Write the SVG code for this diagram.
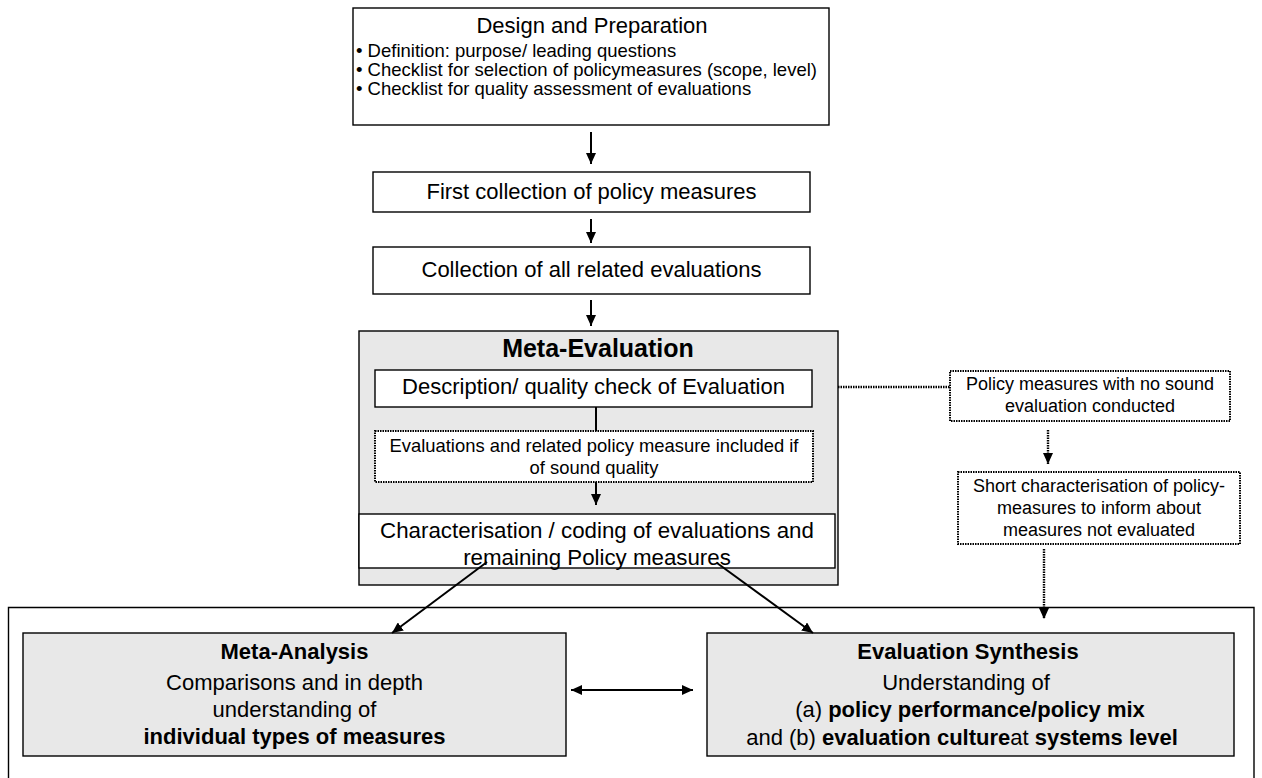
<svg xmlns="http://www.w3.org/2000/svg" width="1262" height="778" viewBox="0 0 1262 778">
  <defs>
    <marker id="head" markerUnits="userSpaceOnUse" markerWidth="12" markerHeight="10" refX="11" refY="5" orient="auto-start-reverse">
      <path d="M0,0 L11,5 L0,10 z" fill="#000"/>
    </marker>
    <style>
      text { font-family: "Liberation Sans", Arial, sans-serif; fill: #000; }
      .box { fill: #fff; stroke: #000; stroke-width: 1.4; }
      .grey { fill: #e8e8e8; stroke: #000; stroke-width: 1.4; }
      .dotbox { fill: #fff; stroke: #000; stroke-width: 2; stroke-dasharray: 1.5 1; }
      .flow { stroke: #000; stroke-width: 2; fill: none; }
      .dot { stroke: #000; stroke-width: 2.4; stroke-dasharray: 1.5 1; fill: none; }
      .c { text-anchor: middle; }
      .b { font-weight: bold; }
    </style>
  </defs>
  <rect width="1262" height="778" fill="#fff"/>

  <!-- outer frame of the result stage (open at the bottom) -->
  <path d="M8.5,790 V607.5 H1254 V790" fill="none" stroke="#000" stroke-width="1.4"/>

  <g id="design">
    <rect class="box" x="353" y="8" width="476" height="117"/>
    <text class="c" x="592" y="33" font-size="22">Design and Preparation</text>
    <text x="356" y="57" font-size="18.5">• Definition: purpose/ leading questions</text>
    <text x="356" y="76" font-size="18.5">• Checklist for selection of policymeasures (scope, level)</text>
    <text x="356" y="95" font-size="18.5">• Checklist for quality assessment of evaluations</text>
  </g>

  <g id="first-collection">
    <rect class="box" x="373" y="172" width="437" height="40"/>
    <text class="c" x="591.5" y="199" font-size="22">First collection of policy measures</text>
  </g>

  <g id="collection-evaluations">
    <rect class="box" x="373" y="247" width="437" height="47"/>
    <text class="c" x="591.5" y="277" font-size="22">Collection of all related evaluations</text>
  </g>

  <g id="meta-evaluation">
    <rect class="grey" x="359" y="331" width="479" height="254"/>
    <text class="c b" x="598" y="357" font-size="25">Meta-Evaluation</text>
    <g id="description">
      <rect class="box" x="375" y="370" width="437" height="37"/>
      <text class="c" x="593.5" y="394" font-size="22">Description/ quality check of Evaluation</text>
    </g>
    <g id="sound-quality">
      <rect class="dotbox" x="375" y="431" width="438" height="51"/>
      <text class="c" x="594" y="452" font-size="18.4">Evaluations and related policy measure included if</text>
      <text class="c" x="594" y="474" font-size="18.4">of sound quality</text>
    </g>
    <g id="characterisation">
      <rect class="box" x="359" y="514" width="476" height="54"/>
      <text class="c" x="597" y="538" font-size="22.3">Characterisation / coding of evaluations and</text>
      <text class="c" x="597" y="565" font-size="22.3">remaining Policy measures</text>
    </g>
  </g>

  <g id="no-sound-evaluation">
    <rect class="dotbox" x="950" y="371" width="280" height="50"/>
    <text class="c" x="1090" y="390" font-size="18">Policy measures with no sound</text>
    <text class="c" x="1090" y="412" font-size="18">evaluation conducted</text>
  </g>

  <g id="short-characterisation">
    <rect class="dotbox" x="958" y="472" width="282" height="72"/>
    <text class="c" x="1099" y="492" font-size="18">Short characterisation of policy-</text>
    <text class="c" x="1099" y="514" font-size="18">measures to inform about</text>
    <text class="c" x="1099" y="536" font-size="18">measures not evaluated</text>
  </g>

  <g id="meta-analysis">
    <rect class="grey" x="23" y="633" width="543" height="123"/>
    <text class="c b" x="294.5" y="659" font-size="22">Meta-Analysis</text>
    <text class="c" x="294.5" y="690" font-size="22">Comparisons and in depth</text>
    <text class="c" x="294.5" y="717" font-size="22">understanding of</text>
    <text class="c b" x="294.5" y="744" font-size="22">individual types of measures</text>
  </g>

  <g id="evaluation-synthesis">
    <rect class="grey" x="707" y="633" width="527" height="123"/>
    <text class="c b" x="968" y="659" font-size="22">Evaluation Synthesis</text>
    <text class="c" x="966" y="690" font-size="22">Understanding of</text>
    <text class="c" x="970" y="717" font-size="22">(a) <tspan class="b">policy performance/policy mix</tspan></text>
    <text class="c" x="962" y="745" font-size="22">and (b) <tspan class="b">evaluation culture</tspan>at <tspan class="b">systems level</tspan></text>
  </g>

  <g id="connectors">
    <line class="flow" x1="591" y1="132" x2="591" y2="164" marker-end="url(#head)"/>
    <line class="flow" x1="591" y1="219" x2="591" y2="243" marker-end="url(#head)"/>
    <line class="flow" x1="591" y1="300" x2="591" y2="326" marker-end="url(#head)"/>
    <line class="flow" x1="596" y1="407" x2="596" y2="431"/>
    <line class="flow" x1="596" y1="482" x2="596" y2="505" marker-end="url(#head)"/>
    <line class="dot" x1="838" y1="387" x2="950" y2="387"/>
    <line class="dot" x1="1048" y1="430" x2="1048" y2="464" marker-end="url(#head)"/>
    <line class="dot" x1="1044" y1="549" x2="1044" y2="619" marker-end="url(#head)"/>
    <line class="flow" x1="487" y1="562" x2="392" y2="633" marker-end="url(#head)"/>
    <line class="flow" x1="717" y1="563" x2="813" y2="633" marker-end="url(#head)"/>
    <line class="flow" x1="571" y1="690" x2="693" y2="690" marker-start="url(#head)" marker-end="url(#head)"/>
  </g>
</svg>
